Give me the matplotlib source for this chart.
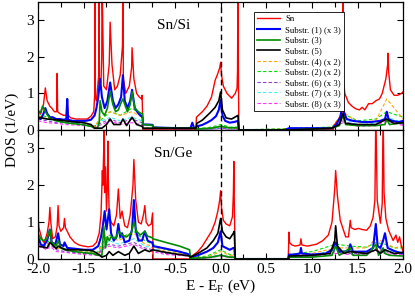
import numpy as np
import matplotlib
matplotlib.use('Agg')
import matplotlib.pyplot as plt
from matplotlib.ticker import MultipleLocator

plt.rcParams['font.family'] = ['Liberation Serif', 'DejaVu Serif']
plt.rcParams['mathtext.fontset'] = 'stix'

# ---------------- data ----------------
labels = ['Sn', 'Substr. (1) (x 3)', 'Substr. (3)', 'Substr. (5)',
          'Substr. (4) (x 2)', 'Substr. (2) (x 2)', 'Substr. (6) (x 3)',
          'Substr. (7) (x 3)', 'Substr. (8) (x 3)']
panel_names = ['Sn/Si', 'Sn/Ge']

# Sn/Si : Sn
si_sn_x = [-2.0, -1.97, -1.94, -1.92, -1.90, -1.87, -1.85, -1.82, -1.795, -1.79, -1.785, -1.76, -1.72,
           -1.69, -1.68, -1.67, -1.64, -1.58, -1.52, -1.46, -1.42, -1.39, -1.378, -1.375, -1.372, -1.36,
           -1.335, -1.332, -1.328, -1.31, -1.302, -1.298, -1.28, -1.25, -1.22, -1.21, -1.19, -1.16, -1.13,
           -1.10, -1.075, -1.07, -1.065, -1.04, -1.0, -0.975, -0.97, -0.95, -0.92, -0.89, -0.865, -0.86,
           -0.855, -0.85, -0.80, -0.5, -0.27, -0.265, -0.2, -0.15, -0.1, -0.06, -0.03, -0.01, 0.0, 0.01,
           0.03, 0.07, 0.12, 0.16, 0.18, 0.185, 0.19, 0.195, 0.2, 0.6, 1.0, 1.23, 1.25, 1.28, 1.31, 1.33,
           1.337, 1.34, 1.343, 1.36, 1.40, 1.44, 1.48, 1.52, 1.55, 1.58, 1.62, 1.66, 1.70, 1.74, 1.77, 1.79,
           1.81, 1.83, 1.835, 1.84, 1.86, 1.90, 1.94, 1.98, 2.0]
si_sn_y = [0.55, 0.45, 0.7, 1.15, 0.8, 0.65, 0.6, 0.5, 0.5, 1.55, 0.5, 0.45, 0.4,
           0.4, 0.85, 0.4, 0.33, 0.3, 0.3, 0.3, 0.38, 0.5, 1.0, 4.0, 0.9, 0.8,
           1.5, 4.0, 1.2, 1.3, 2.0, 4.0, 1.2, 1.1, 1.8, 2.95, 1.8, 1.1, 1.2,
           1.5, 2.3, 4.0, 1.4, 1.0, 1.2, 1.7, 2.25, 1.4, 1.0, 0.9, 0.85, 0.95,
           0.4, 0.0, 0.0, 0.0, 0.0, 0.35, 0.5, 0.65, 0.9, 1.36, 1.55, 1.7, 1.85, 1.5,
           1.2, 1.0, 0.87, 1.0, 1.14, 1.6, 4.0, 1.5, 0.0, 0.0, 0.0, 0.0, 0.15, 0.25, 0.35, 0.5,
           0.9, 4.0, 1.5, 1.0, 0.75, 0.65, 0.58, 0.55, 0.62, 0.55, 0.72, 0.72, 0.8, 0.85, 1.0, 1.2,
           1.4, 1.8, 2.1, 1.6, 1.1, 0.95, 0.95, 1.0, 1.05]

# Sn/Si : Substr. (1)
si_s1_x = [-2.0, -1.97, -1.94, -1.92, -1.90, -1.87, -1.84, -1.80, -1.76, -1.72, -1.69, -1.68, -1.67,
           -1.62, -1.55, -1.48, -1.42, -1.38, -1.36, -1.34, -1.32, -1.30, -1.27, -1.24, -1.21, -1.18,
           -1.15, -1.12, -1.09, -1.07, -1.05, -1.02, -0.99, -0.97, -0.94, -0.90, -0.87, -0.855, -0.85,
           -0.8, -0.745, -0.74, -0.6, -0.45, -0.33, -0.31, -0.29, -0.27, -0.26, -0.2, -0.15, -0.1,
           -0.05, -0.02, 0.0, 0.02, 0.05, 0.1, 0.15, 0.19, 0.2, 0.7, 0.75, 1.0, 1.22, 1.27, 1.31,
           1.33, 1.34, 1.35, 1.38, 1.45, 1.55, 1.65, 1.75, 1.8, 1.82, 1.84, 1.88, 1.95, 2.0]
si_s1_y = [0.35, 0.3, 0.45, 0.6, 0.45, 0.35, 0.35, 0.3, 0.3, 0.28, 0.3, 0.85, 0.28,
           0.25, 0.25, 0.25, 0.28, 0.4, 0.6, 0.9, 1.4, 0.9, 0.6, 0.8, 1.3, 0.8,
           0.6, 0.7, 0.9, 1.5, 0.8, 0.6, 0.8, 1.1, 0.6, 0.45, 0.38, 0.35, 0.15,
           0.15, 0.14, 0.07, 0.06, 0.05, 0.05, 0.2, 0.05, 0.05, 0.1, 0.14, 0.2, 0.27,
           0.38, 0.55, 0.82, 0.4, 0.25, 0.2, 0.22, 0.25, 0.0, 0.0, 0.05, 0.05, 0.05, 0.15, 0.35,
           0.6, 1.1, 0.5, 0.3, 0.25, 0.22, 0.22, 0.25, 0.3, 0.5, 0.3, 0.25, 0.22, 0.25]

# Sn/Si : Substr. (3)
si_s3_x = [-2.0, -1.97, -1.95, -1.92, -1.88, -1.85, -1.8, -1.7, -1.6, -1.5, -1.42, -1.38, -1.35,
           -1.33, -1.32, -1.30, -1.27, -1.24, -1.21, -1.18, -1.15, -1.12, -1.09, -1.07, -1.05, -1.02,
           -0.99, -0.97, -0.94, -0.90, -0.87, -0.855, -0.85, -0.745, -0.74, -0.5, -0.3, -0.26, -0.1,
           0.0, 0.1, 0.19, 0.2, 0.75, 1.22, 1.3, 1.34, 1.37, 1.5, 1.7, 1.8, 1.82, 1.85, 2.0]
si_s3_y = [0.45, 0.5, 0.65, 0.5, 0.35, 0.3, 0.25, 0.2, 0.17, 0.14, 0.1, 0.05, 0.05,
           0.2, 0.8, 0.5, 0.4, 0.6, 1.05, 0.7, 0.5, 0.55, 0.75, 0.85, 0.7, 0.5,
           0.7, 1.05, 0.6, 0.5, 0.45, 0.45, 0.15, 0.13, 0.07, 0.05, 0.05, 0.03, 0.05,
           0.1, 0.06, 0.06, 0.0, 0.0, 0.05, 0.12, 0.4, 0.15, 0.12, 0.12, 0.15, 0.3, 0.15, 0.2]

# Sn/Si : Substr. (5)
si_s5_x = [-2.0, -1.9, -1.8, -1.7, -1.6, -1.5, -1.42, -1.38, -1.3, -1.25, -1.21, -1.17, -1.1, -1.07,
           -1.03, -0.97, -0.92, -0.86, -0.85, -0.75, -0.3, -0.27, -0.26, -0.2, -0.12, -0.06, -0.02,
           0.0, 0.02, 0.06, 0.12, 0.19, 0.2, 0.75, 1.22, 1.3, 1.34, 1.37, 1.5, 1.7, 1.82, 1.9, 2.0]
si_s5_y = [0.35, 0.3, 0.28, 0.25, 0.22, 0.2, 0.15, 0.05, 0.05, 0.15, 0.3, 0.15, 0.15, 0.3,
           0.12, 0.35, 0.15, 0.1, 0.05, 0.05, 0.05, 0.05, 0.18, 0.27, 0.46, 0.62, 0.8,
           1.04, 0.55, 0.33, 0.3, 0.4, 0.0, 0.0, 0.05, 0.15, 0.45, 0.18, 0.15, 0.15, 0.3, 0.18, 0.2]

# Sn/Si : dashed substrate layers (4), (2), (6), (7), (8)
si_dash_x = [-2.0, -1.9, -1.8, -1.7, -1.5, -1.38, -1.3, -1.21, -1.1, -0.97, -0.86, -0.85, -0.3,
             -0.26, -0.1, 0.0, 0.1, 0.19, 0.2, 1.22, 1.34, 1.5, 1.7, 1.82, 2.0]
si_s4_y = [0.4, 0.3, 0.3, 0.25, 0.2, 0.1, 0.4, 0.5, 0.4, 0.5, 0.35, 0.05, 0.03,
           0.02, 0.05, 0.1, 0.05, 0.05, 0.0, 0.05, 0.5, 0.2, 0.25, 0.85, 0.3]
si_s2_y = [0.45, 0.35, 0.3, 0.28, 0.2, 0.1, 0.3, 0.5, 0.4, 0.6, 0.4, 0.05, 0.03,
           0.03, 0.08, 0.15, 0.08, 0.08, 0.0, 0.08, 0.45, 0.25, 0.3, 0.5, 0.35]
si_s6_y = [0.3, 0.25, 0.2, 0.2, 0.15, 0.1, 0.2, 0.3, 0.2, 0.3, 0.2, 0.03, 0.02,
           0.02, 0.03, 0.05, 0.03, 0.03, 0.0, 0.03, 0.25, 0.12, 0.15, 0.3, 0.15]
si_s7_y = [0.35, 0.3, 0.25, 0.22, 0.18, 0.1, 0.25, 0.35, 0.25, 0.35, 0.25, 0.03, 0.02,
           0.02, 0.03, 0.06, 0.03, 0.03, 0.0, 0.04, 0.3, 0.15, 0.18, 0.35, 0.2]
si_s8_y = [0.25, 0.2, 0.18, 0.15, 0.12, 0.08, 0.15, 0.25, 0.15, 0.2, 0.15, 0.02, 0.01,
           0.01, 0.02, 0.04, 0.02, 0.02, 0.0, 0.02, 0.2, 0.1, 0.12, 0.25, 0.12]

# Sn/Ge : Sn
ge_sn_x = [-2.0, -1.99, -1.97, -1.95, -1.93, -1.90, -1.88, -1.87, -1.86, -1.84, -1.81, -1.79, -1.78,
           -1.77, -1.75, -1.72, -1.71, -1.70, -1.68, -1.65, -1.6, -1.55, -1.5, -1.45, -1.4, -1.36,
           -1.33, -1.31, -1.295, -1.29, -1.28, -1.275, -1.27, -1.26, -1.25, -1.24, -1.235, -1.23,
           -1.22, -1.2, -1.17, -1.14, -1.12, -1.10, -1.08, -1.05, -1.02, -0.99, -0.96, -0.95, -0.93,
           -0.90, -0.87, -0.845, -0.83, -0.815, -0.79, -0.76, -0.745, -0.74, -0.34, -0.33, -0.25,
           -0.2, -0.15, -0.1, -0.06, -0.03, -0.01, 0.0, 0.01, 0.03, 0.06, 0.1, 0.13, 0.14, 0.145,
           0.15, 0.16, 0.74, 0.75, 0.755, 0.78, 0.82, 0.87, 0.88, 0.89, 0.95, 1.05, 1.12, 1.18, 1.22,
           1.25, 1.26, 1.28, 1.31, 1.37, 1.40, 1.42, 1.43, 1.47, 1.51, 1.55, 1.60, 1.64, 1.67, 1.69,
           1.70, 1.715, 1.75, 1.77, 1.78, 1.79, 1.81, 1.84, 1.89, 1.92, 1.94, 1.96, 1.98, 2.0]
ge_sn_y = [1.15, 0.85, 0.65, 0.5, 0.45, 0.7, 1.0, 1.4, 1.0, 0.55, 0.6, 0.9, 1.45,
           0.9, 0.75, 0.85, 1.1, 0.85, 0.75, 0.6, 0.45, 0.38, 0.35, 0.33, 0.35, 0.45,
           0.7, 1.2, 2.4, 2.0, 3.0, 4.0, 1.8, 2.5, 1.3, 2.0, 3.2, 2.2,
           1.2, 1.0, 0.9, 1.2, 1.9, 1.1, 1.3, 0.9, 0.85, 1.2, 2.0, 2.7, 1.6,
           1.0, 0.95, 1.2, 1.45, 1.0, 0.9, 0.95, 1.25, 0.0, 0.0, 0.05, 0.2,
           0.35, 0.55, 0.75, 1.0, 1.3, 1.6, 1.85, 1.4, 1.05, 0.95, 0.9, 1.15, 1.8, 2.65,
           1.5, 0.0, 0.0, 0.73, 0.45, 0.38, 0.35, 0.38, 0.55, 0.38, 0.35, 0.4, 0.5, 0.65, 1.0,
           1.9, 2.4, 1.7, 1.05, 0.6, 0.6, 1.05, 0.85, 0.8, 0.83, 0.8, 0.78, 0.9, 1.13, 1.6,
           4.0, 1.6, 0.97, 1.5, 4.0, 1.8, 1.1, 0.78, 0.5, 0.65, 0.45, 0.6, 0.35, 0.2]

# Sn/Ge : Substr. (1)
ge_s1_x = [-2.0, -1.97, -1.94, -1.90, -1.87, -1.85, -1.81, -1.78, -1.76, -1.72, -1.71, -1.68, -1.6,
           -1.5, -1.4, -1.34, -1.31, -1.29, -1.27, -1.25, -1.22, -1.2, -1.17, -1.14, -1.12, -1.10,
           -1.08, -1.05, -1.0, -0.97, -0.95, -0.93, -0.9, -0.86, -0.83, -0.8, -0.76, -0.745, -0.74,
           -0.6, -0.45, -0.34, -0.33, -0.25, -0.15, -0.08, -0.03, 0.0, 0.02, 0.06, 0.1, 0.14, 0.15,
           0.16, 0.74, 0.75, 0.8, 0.87, 0.88, 0.89, 1.0, 1.15, 1.22, 1.26, 1.3, 1.4, 1.42, 1.45, 1.6,
           1.67, 1.70, 1.72, 1.75, 1.78, 1.80, 1.83, 1.9, 1.95, 2.0]
ge_s1_y = [0.6, 0.4, 0.35, 0.5, 0.8, 0.45, 0.4, 0.7, 0.4, 0.35, 0.45, 0.3, 0.28,
           0.25, 0.25, 0.35, 0.6, 0.9, 1.3, 0.8, 1.35, 0.7, 0.5, 0.6, 0.95, 0.6,
           0.7, 0.45, 0.5, 0.8, 1.6, 0.8, 0.5, 0.5, 0.75, 0.5, 0.45, 0.45, 0.35,
           0.28, 0.2, 0.12, 0.05, 0.1, 0.2, 0.3, 0.45, 0.75, 0.35, 0.3, 0.25, 0.3, 0.3,
           0.0, 0.0, 0.12, 0.12, 0.15, 0.3, 0.15, 0.12, 0.15, 0.25, 0.45, 0.2, 0.2, 0.4, 0.2, 0.2,
           0.3, 0.95, 0.35, 0.3, 0.5, 0.7, 0.3, 0.22, 0.18, 0.15]

# Sn/Ge : Substr. (3)
ge_s3_x = [-2.0, -1.97, -1.94, -1.90, -1.87, -1.85, -1.8, -1.78, -1.75, -1.7, -1.6, -1.5, -1.4,
           -1.35, -1.3, -1.28, -1.26, -1.24, -1.22, -1.2, -1.15, -1.12, -1.08, -1.03, -0.98, -0.95,
           -0.92, -0.88, -0.83, -0.8, -0.75, -0.745, -0.6, -0.45, -0.34, -0.33, -0.2, -0.1, 0.0, 0.1,
           0.15, 0.16, 0.74, 0.75, 1.0, 1.22, 1.26, 1.3, 1.42, 1.45, 1.6, 1.70, 1.73, 1.78, 1.8,
           1.85, 2.0]
ge_s3_y = [0.7, 0.55, 0.5, 0.55, 0.8, 0.45, 0.35, 0.5, 0.3, 0.25, 0.2, 0.17, 0.15,
           0.1, 0.1, 0.9, 0.3, 0.6, 0.5, 0.6, 0.55, 0.75, 0.65, 0.6, 0.7, 1.0,
           0.75, 0.65, 0.75, 0.62, 0.58, 0.55, 0.45, 0.35, 0.25, 0.02, 0.03, 0.05, 0.1, 0.05,
           0.05, 0.0, 0.0, 0.05, 0.05, 0.1, 0.35, 0.1, 0.3, 0.1, 0.1, 0.4, 0.1, 0.3, 0.15,
           0.1, 0.08]

# Sn/Ge : Substr. (5)
ge_s5_x = [-2.0, -1.9, -1.87, -1.8, -1.78, -1.7, -1.6, -1.5, -1.4, -1.35, -1.3, -1.25, -1.22, -1.18,
           -1.12, -1.05, -1.0, -0.95, -0.9, -0.83, -0.78, -0.745, -0.6, -0.45, -0.34, -0.33, -0.25,
           -0.15, -0.08, -0.03, 0.0, 0.02, 0.06, 0.1, 0.14, 0.15, 0.16, 0.74, 0.75, 1.0, 1.2, 1.25,
           1.26, 1.28, 1.35, 1.42, 1.6, 1.70, 1.75, 1.8, 1.9, 2.0]
ge_s5_y = [0.35, 0.3, 0.45, 0.28, 0.35, 0.25, 0.25, 0.25, 0.22, 0.15, 0.05, 0.1, 0.2, 0.1,
           0.2, 0.1, 0.15, 0.35, 0.15, 0.25, 0.2, 0.25, 0.18, 0.12, 0.08, 0.05, 0.15,
           0.3, 0.5, 0.7, 1.1, 0.75, 0.6, 0.55, 0.7, 0.75, 0.0, 0.0, 0.08, 0.1, 0.15, 0.5,
           0.9, 0.35, 0.15, 0.2, 0.15, 0.25, 0.15, 0.25, 0.15, 0.18]

# Sn/Ge : dashed substrate layers (4), (2), (6), (7), (8)
ge_dash_x = [-2.0, -1.9, -1.87, -1.8, -1.7, -1.5, -1.35, -1.27, -1.22, -1.12, -0.95, -0.83, -0.745,
             -0.6, -0.34, -0.33, -0.15, 0.0, 0.1, 0.15, 0.16, 0.74, 0.75, 1.0, 1.26, 1.42, 1.6,
             1.70, 1.8, 1.9, 2.0]
ge_s4_y = [0.5, 0.35, 0.5, 0.3, 0.25, 0.2, 0.15, 0.5, 0.6, 0.5, 0.7, 0.4, 0.35,
           0.2, 0.12, 0.02, 0.05, 0.2, 0.1, 0.1, 0.0, 0.0, 0.1, 0.15, 0.3, 0.3, 0.3,
           0.55, 0.45, 0.3, 0.35]
ge_s2_y = [0.55, 0.4, 0.55, 0.35, 0.28, 0.22, 0.18, 0.55, 0.65, 0.55, 0.75, 0.5, 0.4,
           0.25, 0.15, 0.03, 0.08, 0.25, 0.12, 0.12, 0.0, 0.0, 0.12, 0.2, 0.4, 0.35, 0.32,
           0.45, 0.4, 0.3, 0.3]
ge_s6_y = [0.4, 0.3, 0.4, 0.25, 0.2, 0.15, 0.12, 0.35, 0.4, 0.35, 0.45, 0.3, 0.25,
           0.15, 0.1, 0.02, 0.03, 0.1, 0.05, 0.05, 0.0, 0.0, 0.05, 0.08, 0.2, 0.15, 0.15,
           0.3, 0.2, 0.15, 0.15]
ge_s7_y = [0.45, 0.35, 0.45, 0.3, 0.25, 0.18, 0.15, 0.4, 0.5, 0.4, 0.55, 0.35, 0.3,
           0.18, 0.12, 0.02, 0.04, 0.12, 0.06, 0.06, 0.0, 0.0, 0.06, 0.1, 0.25, 0.2, 0.2,
           0.35, 0.25, 0.2, 0.2]
ge_s8_y = [0.35, 0.25, 0.35, 0.2, 0.18, 0.12, 0.1, 0.3, 0.35, 0.3, 0.4, 0.25, 0.2,
           0.12, 0.08, 0.01, 0.02, 0.08, 0.04, 0.04, 0.0, 0.0, 0.04, 0.06, 0.15, 0.12, 0.12,
           0.25, 0.15, 0.12, 0.12]

# ---------------- fig config ----------------
fig_size = (4.15, 2.99)
fsize_label = 11
fsize_legend = 6.3
colors = ['#ff0000', '#0000ff', '#008c00', '#000000',
          '#ffa500', '#00e000', '#9040d0', '#40f0f0', '#ff30ff']
lws = [1.0, 1.5, 1.2, 1.2, 0.8, 0.8, 0.8, 0.8, 0.8]
lstyles = ['-', '-', '-', '-'] + [(0, (3, 2))] * 5

panels = [
    [(si_sn_x, si_sn_y), (si_s1_x, si_s1_y), (si_s3_x, si_s3_y), (si_s5_x, si_s5_y),
     (si_dash_x, si_s4_y), (si_dash_x, si_s2_y), (si_dash_x, si_s6_y),
     (si_dash_x, si_s7_y), (si_dash_x, si_s8_y)],
    [(ge_sn_x, ge_sn_y), (ge_s1_x, ge_s1_y), (ge_s3_x, ge_s3_y), (ge_s5_x, ge_s5_y),
     (ge_dash_x, ge_s4_y), (ge_dash_x, ge_s2_y), (ge_dash_x, ge_s6_y),
     (ge_dash_x, ge_s7_y), (ge_dash_x, ge_s8_y)],
]

fig = plt.figure(figsize=fig_size, dpi=100)
ax_top = fig.add_axes([0.0916, 0.5652, 0.880, 0.428])
ax_bot = fig.add_axes([0.0916, 0.1338, 0.880, 0.4314])

for ax, curves, name in zip([ax_top, ax_bot], panels, panel_names):
    # dashed layers underneath, Sn & main layers on top
    order = [4, 5, 6, 7, 8, 3, 2, 1, 0]
    for ii in order:
        xs, ys = curves[ii]
        ax.plot(xs, ys, color=colors[ii], lw=lws[ii], ls=lstyles[ii], label=labels[ii],
                zorder=2 + (9 - ii) * 0.01 if ii > 3 else 3 + ii * 0.01)
    ax.axvline(0, color='k', ls=(0, (4, 2.5)), lw=1.0, zorder=5)
    ax.set_xlim(-2.0, 2.0)
    ax.set_ylim(0, 3.5)
    ax.xaxis.set_major_locator(MultipleLocator(0.5))
    ax.xaxis.set_minor_locator(MultipleLocator(0.25))
    ax.yaxis.set_major_locator(MultipleLocator(1))
    ax.tick_params(which='both', direction='in', top=True, right=True,
                   labelsize=fsize_label, pad=2)
    ax.tick_params(which='major', length=4, width=0.8)
    ax.tick_params(which='minor', length=3.5, width=0.8)
    ax.tick_params(axis='y', pad=3)
    for sp in ax.spines.values():
        sp.set_linewidth(0.9)
        sp.set_zorder(6)
    ax.text(0.37, 0.82, name, transform=ax.transAxes, ha='center', va='center',
            fontsize=fsize_label)

ax_top.tick_params(labelbottom=False)
ax_bot.set_xticks(np.arange(-2.0, 2.01, 0.5))
ax_bot.set_xticklabels(['%.1f' % v for v in np.arange(-2.0, 2.01, 0.5)])
ax_bot.tick_params(axis='x', pad=3)
ax_bot.set_xlabel(r'E - E$_\mathregular{F}$ (eV)', fontsize=fsize_label, labelpad=1)
fig.text(0.03, 0.565, 'DOS (1/eV)', rotation=90, ha='center', va='center',
         fontsize=fsize_label)

handles, labs = ax_top.get_legend_handles_labels()
idx = [labs.index(l) for l in labels]
leg = ax_top.legend([handles[i] for i in idx], labels, loc='upper left',
                    bbox_to_anchor=(0.592, 0.92), fontsize=fsize_legend, frameon=True,
                    fancybox=False, edgecolor='k', framealpha=1, handlelength=2.6,
                    handletextpad=0.6, borderpad=0.35, labelspacing=0.28, borderaxespad=0)
leg.get_frame().set_linewidth(0.6)
leg.set_zorder(10)

plt.savefig('out.png', dpi=100)
